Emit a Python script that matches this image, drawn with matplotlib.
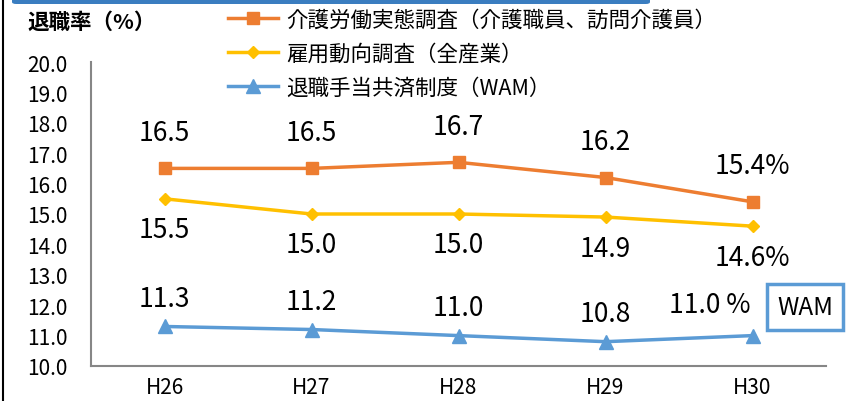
import matplotlib
matplotlib.use('Agg')
import matplotlib.pyplot as plt
from matplotlib.patches import FancyBboxPatch
from matplotlib.lines import Line2D

plt.rcParams['font.family'] = ['Noto Sans CJK JP', 'DejaVu Sans']

years = ['H26', 'H27', 'H28', 'H29', 'H30']
kaigo = [16.5, 16.5, 16.7, 16.2, 15.4]
koyo = [15.5, 15.0, 15.0, 14.9, 14.6]
wam = [11.3, 11.2, 11.0, 10.8, 11.0]
names = ['介護労働実態調査（介護職員、訪問介護員）', '雇用動向調査（全産業）', '退職手当共済制度（WAM）']

c_or = '#ED7D31'
c_ye = '#FFC000'
c_bl = '#5B9BD5'

fig = plt.figure(figsize=(8.49, 4.02), dpi=100)
ax = fig.add_axes([91/849, 35/402, 735/849, 304/402])

x = range(len(years))
l1, = ax.plot(x, kaigo, color=c_or, lw=2.5, marker='s', ms=9)
l2, = ax.plot(x, koyo, color=c_ye, lw=2.5, marker='D', ms=6.5)
l3, = ax.plot(x, wam, color=c_bl, lw=2.5, marker='^', ms=10)

ax.set_xlim(-0.5, 4.5)
ax.set_ylim(10, 20)
ax.set_yticks([10 + i for i in range(11)])
ax.set_yticklabels(['%.1f' % (10 + i) for i in range(11)])
ax.set_xticks(list(x))
ax.set_xticklabels(years)
ax.tick_params(axis='y', length=0, pad=17, labelsize=15)
ax.tick_params(axis='x', length=0, pad=7, labelsize=15)
for s in ['top', 'right']:
    ax.spines[s].set_visible(False)
for s in ['left', 'bottom']:
    ax.spines[s].set_color('#868686')
    ax.spines[s].set_linewidth(1.5)

# data labels
px = 72 / 100
for i, v in enumerate(kaigo):
    t = '%.1f' % v + ('%' if i == 4 else '')
    ax.annotate(t, (i, v), xytext=(0, 36 * px), textcoords='offset points',
                ha='center', va='center', fontsize=19)
for i, v in enumerate(koyo):
    t = '%.1f' % v + ('%' if i == 4 else '')
    ax.annotate(t, (i, v), xytext=(0, -31 * px), textcoords='offset points',
                ha='center', va='center', fontsize=19)
for i, v in enumerate(wam):
    if i == 4:
        ax.annotate('%.1f %%' % v, (i, v), xytext=(-43 * px, 31 * px), textcoords='offset points',
                    ha='center', va='center', fontsize=19)
    else:
        ax.annotate('%.1f' % v, (i, v), xytext=(0, 28 * px), textcoords='offset points',
                    ha='center', va='center', fontsize=19)

fig.text(805/849, 1 - 308/402, 'WAM', ha='center', va='center', fontsize=17.5,
         bbox=dict(boxstyle='square,pad=0.4', fc='white', ec=c_bl, lw=2.5))

fig.text(27/849, 1 - 22/402, '退職率（%）', ha='left', va='center', fontsize=15.5, fontweight='bold')

fig.legend([l1, l2, l3], names, loc='upper left', bbox_to_anchor=(228/849, 1 - 10/402),
           frameon=False, fontsize=15.5, handlelength=2.3, handletextpad=0.4,
           borderpad=0, labelspacing=0.55, borderaxespad=0)

# header bar and left border
fig.patches.append(FancyBboxPatch((12/849, 1 - 5/402), 638/849, 10/402,
                                  boxstyle='round,pad=0,rounding_size=0.005',
                                  transform=fig.transFigure, fc='#3A7DC0', ec='none'))
fig.lines.append(Line2D([3/849, 3/849], [0, 1], transform=fig.transFigure, color='black', lw=1.5))

fig.savefig('out.png', dpi=100)
